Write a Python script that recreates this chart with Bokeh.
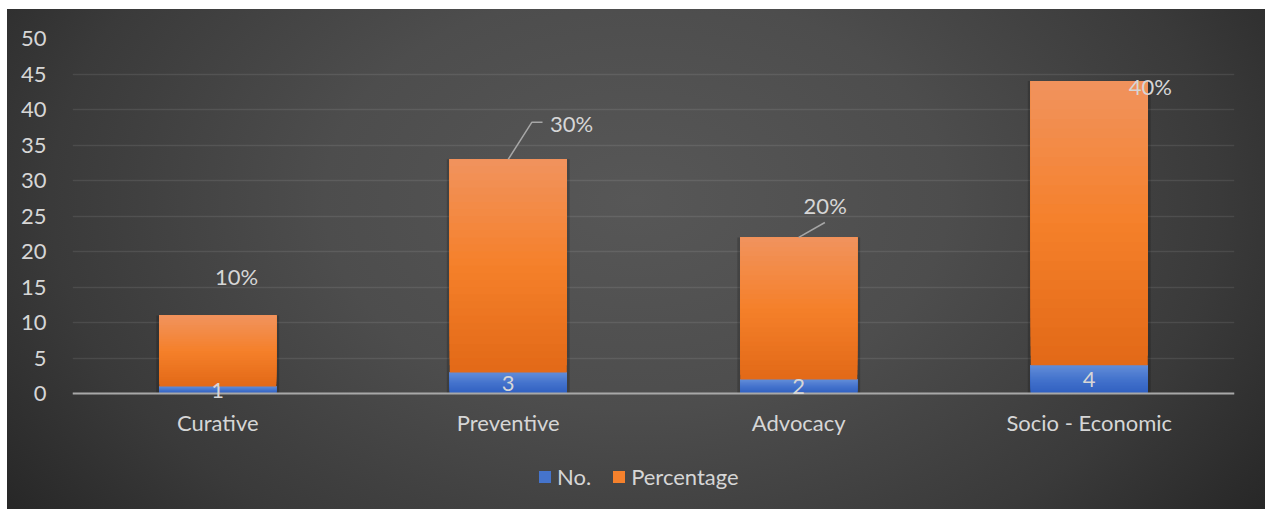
from bokeh.plotting import figure
from bokeh.models import (FactorRange, Range1d, ColumnDataSource, Legend, LegendItem,
                          FixedTicker)
from bokeh.embed import file_html
from bokeh.resources import INLINE

# ---------------- data ----------------
cats = ["Curative", "Preventive", "Advocacy", "Socio - Economic"]
no_vals = [1, 3, 2, 4]
pct_vals = [10, 30, 20, 40]
pct_labels = ["10%", "30%", "20%", "40%"]
no_labels = ["1", "3", "2", "4"]
y_ticks = [0, 5, 10, 15, 20, 25, 30, 35, 40, 45, 50]

# ---------------- style / layout constants ----------------
FONT = "Lato"
FS = "22px"
TXT = "#d6d6d6"
BAR_W = 0.403
N_STRIPS = 30
Y_MIN_VIEW = -16.3   # extra room below the zero line for category labels and legend
ORANGE_STOPS = [(0.0, (0xE2, 0x69, 0x17)), (0.5, (0xF5, 0x80, 0x2A)), (1.0, (0xF1, 0x93, 0x5E))]
BLUE_STOPS = [(0.0, (0x2F, 0x5F, 0xC0)), (0.5, (0x44, 0x73, 0xCC)), (1.0, (0x62, 0x8D, 0xD8))]
# percentage label placement (category-units dx, value-units dy from bar top)
PCT_DX = [0.065, 0.218, 0.091, 0.21]
PCT_DY = [5.5, 5.0, 4.5, -0.8]


def interp(stops, t):
    for (t0, c0), (t1, c1) in zip(stops[:-1], stops[1:]):
        if t <= t1:
            f = (t - t0) / (t1 - t0)
            c = [int(round(a + (b - a) * f)) for a, b in zip(c0, c1)]
            return "#%02x%02x%02x" % tuple(c)
    return "#%02x%02x%02x" % stops[-1][1]


def strips(bottoms, tops, stops):
    xs, bs, ts, cs = [], [], [], []
    for c, b0, t0 in zip(cats, bottoms, tops):
        h = t0 - b0
        for j in range(N_STRIPS):
            xs.append(c)
            bs.append(b0 + h * j / N_STRIPS)
            ts.append(t0)
            cs.append(interp(stops, (j + 0.5) / N_STRIPS))
    return ColumnDataSource(dict(x=xs, bottom=bs, top=ts, color=cs))


totals = [a + b for a, b in zip(no_vals, pct_vals)]

p = figure(x_range=FactorRange(*cats, range_padding=0),
           y_range=Range1d(Y_MIN_VIEW, 50),
           frame_width=1162, frame_height=471,
           min_border_left=65, min_border_right=31, min_border_top=29, min_border_bottom=0,
           output_backend="svg", toolbar_location=None)

p.background_fill_color = None
p.border_fill_color = None
p.outline_line_color = None
p.styles = {
    "background": "radial-gradient(ellipse 62% 105% at 50% 38%, #575757 0%, #4d4d4d 40%, #3a3a3a 75%, #272727 100%)",
    "margin-left": "7px",
    "margin-top": "9px",
}

# shadows
shadow_src = ColumnDataSource(dict(x=cats, top=totals))
p.vbar(x="x", top="top", bottom=0, width=BAR_W + 0.02, source=shadow_src,
       fill_color="black", fill_alpha=0.18, line_color=None)

blue_src = strips([0] * 4, no_vals, BLUE_STOPS)
orange_src = strips(no_vals, totals, ORANGE_STOPS)
r_blue = p.vbar(x="x", bottom="bottom", top="top", width=BAR_W, source=blue_src,
                fill_color="color", line_color=None)
r_orange = p.vbar(x="x", bottom="bottom", top="top", width=BAR_W, source=orange_src,
                  fill_color="color", line_color=None)

# axes
p.yaxis.ticker = FixedTicker(ticks=y_ticks)
p.yaxis.axis_line_color = None
p.yaxis.major_tick_line_color = None
p.yaxis.minor_tick_line_color = None
p.yaxis.major_label_standoff = 20
p.yaxis.major_label_text_font = FONT
p.yaxis.major_label_text_font_size = FS
p.yaxis.major_label_text_color = TXT

p.xaxis.fixed_location = 0
p.xaxis.axis_line_color = "#a8a8a8"
p.xaxis.axis_line_width = 2
p.xaxis.major_tick_line_color = None
p.xaxis.minor_tick_line_color = None
p.xaxis.major_tick_out = 0
p.xaxis.major_tick_in = 0
p.xaxis.major_label_standoff = 15
p.xaxis.major_label_text_font = FONT
p.xaxis.major_label_text_font_size = FS
p.xaxis.major_label_text_color = TXT

p.xgrid.grid_line_color = None
p.ygrid.ticker = FixedTicker(ticks=y_ticks)
p.ygrid.grid_line_color = "white"
p.ygrid.grid_line_alpha = 0.09
p.ygrid.grid_line_width = 1.5

# data labels: No.
xc = [i + 0.5 for i in range(len(cats))]
no_src = ColumnDataSource(dict(x=xc, y=[v / 2 for v in no_vals], t=no_labels))
p.text(x="x", y="y", text="t", source=no_src, text_align="center", text_baseline="middle",
       text_font=dict(value=FONT), text_font_size=FS, text_color=TXT, level="overlay")

# data labels: Percentage (moved labels)
pct_src = ColumnDataSource(dict(x=[a + d for a, d in zip(xc, PCT_DX)],
                                y=[t + d for t, d in zip(totals, PCT_DY)], t=pct_labels))
p.text(x="x", y="y", text="t", source=pct_src, text_align="center", text_baseline="middle",
       text_font=dict(value=FONT), text_font_size=FS, text_color=TXT, level="overlay")

# leader lines for the moved labels (Preventive, Advocacy)
lead_xs = [[xc[1], xc[1] + 0.081, xc[1] + 0.118], [xc[2], xc[2] + 0.09]]
lead_ys = [[totals[1], totals[1] + 5.2, totals[1] + 5.2], [totals[2], totals[2] + 2.1]]
p.multi_line(xs=lead_xs, ys=lead_ys, line_color="#a6a6a6", line_width=1.5)

mid = N_STRIPS // 2
legend = Legend(items=[LegendItem(label="No.", renderers=[r_blue], index=mid),
                       LegendItem(label="Percentage", renderers=[r_orange], index=mid)],
                orientation="horizontal", location=(465, 19))
legend.background_fill_alpha = 0
legend.border_line_color = None
legend.label_text_font = FONT
legend.label_text_font_size = FS
legend.label_text_color = TXT
legend.glyph_width = 15
legend.glyph_height = 15
legend.spacing = 20
legend.label_standoff = 5
legend.padding = 0
legend.margin = 0
p.add_layout(legend, "center")

html = file_html(p, INLINE)
open("out.html", "w").write(html)
